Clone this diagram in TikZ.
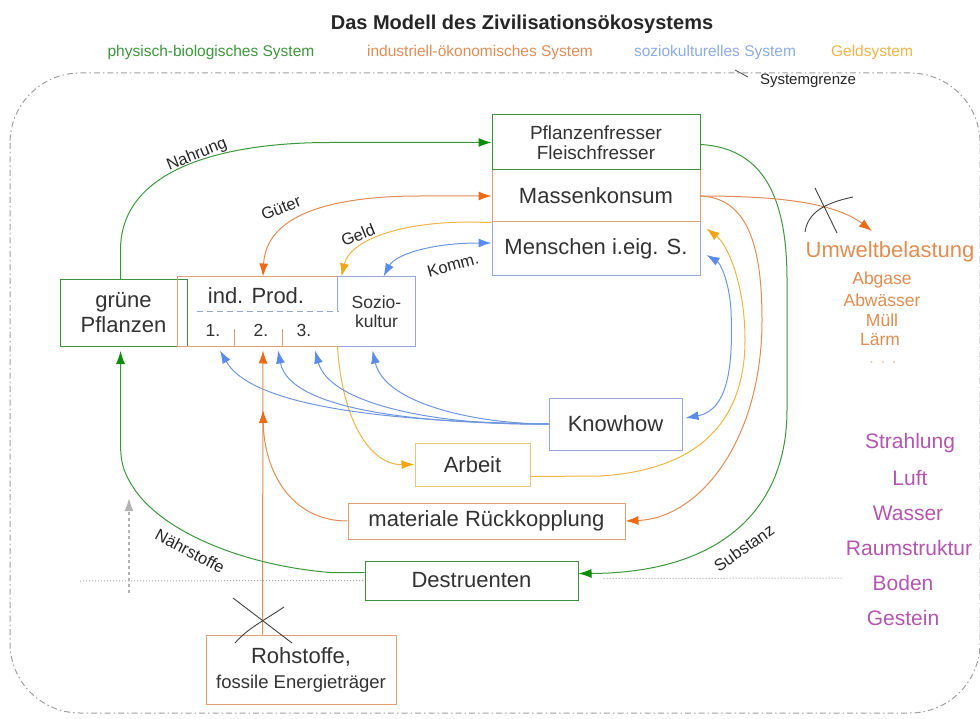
\documentclass[tikz,border=0pt]{standalone}
\usepackage{fontspec}
\setmainfont{Liberation Sans}
\usetikzlibrary{arrows.meta,calc}
\newcommand\fsz[2]{\fontsize{#1}{#2}\selectfont}
\definecolor{bgreen}{RGB}{60,145,60}
\definecolor{lgreen}{RGB}{60,150,60}
\definecolor{tgreen}{RGB}{10,140,10}
\definecolor{borange}{RGB}{222,160,115}
\definecolor{lorange}{RGB}{225,140,85}
\definecolor{torange}{RGB}{240,105,20}
\definecolor{bblue}{RGB}{150,168,212}
\definecolor{lblue}{RGB}{110,150,220}
\definecolor{tblue}{RGB}{90,140,235}
\definecolor{bgold}{RGB}{232,200,120}
\definecolor{lgold}{RGB}{238,180,70}
\definecolor{tgold}{RGB}{245,165,20}
\definecolor{cpurple}{RGB}{180,85,175}
\definecolor{txt}{RGB}{50,50,50}
\definecolor{utxt}{RGB}{225,140,80}
\tikzset{
  tipG/.tip={Latex[length=13pt,width=9pt,color=tgreen]},
  tipO/.tip={Latex[length=13pt,width=9pt,color=torange]},
  tipB/.tip={Latex[length=13pt,width=9pt,color=tblue]},
  tipY/.tip={Latex[length=13pt,width=9pt,color=tgold]},
  tipGr/.tip={Latex[length=13pt,width=9pt,color=gray!60]},
  box/.style={draw, line width=1pt, inner sep=0pt, font=\fsz{22}{25}, text=txt, align=center},
  gline/.style={draw=lgreen, line width=1pt},
  oline/.style={draw=lorange, line width=1pt},
  bline/.style={draw=lblue, line width=1pt},
  yline/.style={draw=lgold, line width=1pt},
  crossc/.style={draw=black!75, line width=0.9pt},
  lab/.style={font=\fsz{16.5}{18}, text=black!85, inner sep=0pt},
  intext/.style={font=\fsz{22}{25}, text=txt, inner sep=0pt},
  leg/.style={font=\fsz{15.5}{18}, inner sep=0pt},
  utext/.style={font=\fsz{17.5}{20}, text=utxt, inner sep=0pt},
  ptext/.style={font=\fsz{21}{24}, text=cpurple, inner sep=0pt}
}
\begin{document}
\begin{tikzpicture}[x=1pt,y=-1pt]
\useasboundingbox (0,0) rectangle (980,719);
% title and legend
\node[font=\bfseries\fsz{20}{24}, text=black!85] (title) at (522,24) {Das Modell des Zivilisationsökosystems};
\node[leg, text=lgreen] (leg1) at (211,52) {physisch-biologisches System};
\node[leg, text=lorange] (leg2) at (480,52) {industriell-ökonomisches System};
\node[leg, text=lblue!80] (leg3) at (715,52) {soziokulturelles System};
\node[leg, text=lgold] (leg4) at (872,52) {Geldsystem};
% system boundary
\draw[gray!75, line width=1pt, dash pattern=on 6pt off 3pt on 1.5pt off 3pt, rounded corners=70pt] (10,73) rectangle (980,713);
\node[font=\fsz{15}{18}, text=black!85, inner sep=0pt] (sg) at (808,81) {Systemgrenze};
\coordinate (sg1) at (735,70);
\coordinate (sg2) at (748,77);
\draw[black!70, line width=0.8pt] (sg1) -- (sg2);
% boxes
\node[box, draw=bblue, minimum width=208pt, minimum height=54pt] (me) at (596,249) {Menschen i.eig. S.};
\node[box, draw=borange, minimum width=208pt, minimum height=52pt] (mk) at (596,196) {Massenkonsum};
\node[box, draw=bgreen, minimum width=208pt, minimum height=55pt, font=\fsz{19}{20}] (pf) at (596,142.5) {Pflanzenfresser\\Fleischfresser};
\node[box, draw=bgreen, minimum width=127pt, minimum height=67pt] (gp) at (123.5,313) {grüne\\Pflanzen};
\node[box, draw=none, minimum width=160pt, minimum height=69pt] (ip) at (258,311.5) {};
\draw[borange, line width=1pt] (ip.north east) -- (ip.north west) -- (ip.south west) -- (ip.south east);
\node[box, draw=none, minimum width=77pt, minimum height=69pt, font=\fsz{17.5}{19}] (sk) at (376.5,311.5) {Sozio-\\kultur};
\draw[bblue, line width=1pt] (sk.west) -- (sk.north west) -- (sk.north east) -- (sk.south east) -- (sk.south west);
\node[intext] (ipt) at (256,296) {ind. Prod.};
\node[intext, font=\fsz{17.5}{19}] (n1) at (213,330) {1.};
\node[intext, font=\fsz{17.5}{19}] (n2) at (261,330) {2.};
\node[intext, font=\fsz{17.5}{19}] (n3) at (304,330) {3.};
\draw[bblue, line width=1pt, dash pattern=on 6pt off 4pt] ($(ip.west)+(19,0)$) -- (ip.east);
\draw[borange, line width=1pt] ($(ip.south west)+(57,0)$) -- ++(0,-17);
\draw[borange, line width=1pt] ($(ip.south west)+(105,0)$) -- ++(0,-17);
\node[box, draw=bblue, minimum width=133pt, minimum height=52pt] (kh) at (615.5,424) {Knowhow};
\node[box, draw=bgold, minimum width=115pt, minimum height=43pt] (ar) at (472.5,464.5) {Arbeit};
\node[box, draw=borange, minimum width=277pt, minimum height=36pt] (mr) at (486.5,521) {materiale Rückkopplung};
\node[box, draw=bgreen, minimum width=213pt, minimum height=39pt] (de) at (471.5,580.5) {Destruenten};
\node[box, draw=borange, minimum width=190pt, minimum height=69pt] (ro) at (301,669.5) {{\fsz{22}{22}Rohstoffe,}\\{\fsz{18.5}{22}fossile Energieträger}};
% right side texts
\node[font=\fsz{22}{24}, text=utxt, inner sep=0pt] (uw) at (890,252) {Umweltbelastung};
\node[utext] (u1) at (882,280) {Abgase};
\node[utext] (u2) at (882,300) {Abwässer};
\node[utext] (u3) at (882,320) {Müll};
\node[utext] (u4) at (880,340) {Lärm};
\node[utext, text=utxt!50] (u5) at (883,363) {. . .};
\node[ptext] (p1) at (910,443) {Strahlung};
\node[ptext] (p2) at (910,478) {Luft};
\node[ptext] (p3) at (908,513) {Wasser};
\node[ptext] (p4) at (909,548) {Raumstruktur};
\node[ptext] (p5) at (903,583) {Boden};
\node[ptext] (p6) at (903,618) {Gestein};
% dotted ground lines
\coordinate (dl1) at (80,581);
\coordinate (dr2) at (843,578);
\draw[gray!70, line width=1pt, dotted] (dl1) -- (de.west);
\draw[gray!70, line width=1pt, dotted] ($(de.east)+(25,-2)$) -- (dr2);
% Nahrung
\draw[gline, -tipG] ($(gp.north)+(-3,0)$) -- (120.5,250) .. controls (120.5,170) and (220,142.5) .. (330,142.5) -- (pf.west);
\node[lab, rotate=22] (lnahrung) at (197,155) {Nahrung};
% Gueter
\draw[oline, tipO-tipO] ($(ip.north)+(5,0)$) .. controls (266,215) and (330,196) .. (420,196) -- (mk.west);
\node[lab, rotate=22] (lgueter) at (281,208) {Güter};
% Geld
\draw[yline, tipY-] ($(sk.north west)+(4,0)$) .. controls (350,240) and (400,222) .. (470,222) -- (mk.south west);
\node[lab, rotate=22] (lgeld) at (358,235) {Geld};
% Komm
\draw[bline, tipB-tipB] ($(sk.north)+(7,0)$) .. controls (395,255) and (430,243) .. ($(me.west)+(0,-6)$);
\node[lab, rotate=15] (lkomm) at (453,265) {Komm.};
% Substanz
\draw[gline, -tipG] ($(pf.east)+(0,2)$) .. controls (765,148) and (787,200) .. (787,280) -- (787,410) .. controls (787,510) and (720,573) .. ($(de.east)+(0,-7)$);
\node[lab, rotate=35] (lsub) at (744,548) {Substanz};
% Umweltbelastung
\coordinate (uwtip) at (872,231);
\draw[oline, -tipO] (mk.east) .. controls (780,196) and (835,203) .. (uwtip);
\coordinate (c1a) at (815,188); \coordinate (c1b) at (837,233);
\coordinate (c2a) at (805,232); \coordinate (c2b) at (853,197);
\draw[crossc] (c1a) -- (c1b);
\draw[crossc] (c2a) .. controls (808,212) and (825,203) .. (c2b);
% Massenkonsum -> materiale Rueckkopplung
\draw[oline, -tipO] (mk.east) .. controls (745,198) and (762,240) .. (762,320) .. controls (762,440) and (700,518) .. (mr.east);
% Arbeit -> Menschen
\draw[yline, -tipY] ($(ar.east)+(0,12)$) -- (600,476) .. controls (700,470) and (745,420) .. (745,340) .. controls (745,285) and (728,245) .. ($(me.north east)+(6,7)$);
% Knowhow <-> Menschen
\draw[bline, tipB-tipB] ($(kh.east)+(3,-6)$) .. controls (730,410) and (733,360) .. (731,310) .. controls (729,280) and (720,263) .. ($(me.east)+(6,6)$);
% Sozio -> Arbeit
\draw[yline, -tipY] (sk.south west) .. controls (342,420) and (370,465) .. (ar.west);
% Knowhow -> Produktion / Soziokultur
\draw[bline, -tipB] (kh.west) .. controls (420,422) and (255,412) .. ($(ip.south)+(-38,4)$);
\draw[bline, -tipB] (kh.west) .. controls (430,424) and (290,412) .. ($(ip.south)+(20,4)$);
\draw[bline, -tipB] (kh.west) .. controls (440,426) and (330,405) .. ($(ip.south)+(57,4)$);
\draw[bline, -tipB] (kh.west) .. controls (480,424) and (385,405) .. ($(sk.south)+(-4,4)$);
% Rohstoffe -> Produktion
\draw[oline, -tipO] ($(ro.north west)+(57,0)$) -- ($(ip.south)+(5,4)$);
\coordinate (mrtip) at (263,410);
\draw[oline, -tipO] (mr.west) .. controls (290,521) and (264,470) .. (mrtip);
\coordinate (c3a) at (233,598); \coordinate (c3b) at (292,643);
\coordinate (c4a) at (235,643); \coordinate (c4b) at (284,607);
\draw[crossc] (c3a) -- (c3b);
\draw[crossc] (c4a) .. controls (248,628) and (265,620) .. (c4b);
% Destruenten -> gruene Pflanzen
\draw[gline, -tipG] ($(de.west)+(0,-8)$) -- (330,572.5) .. controls (240,565) and (160,530) .. (133,487) .. controls (122,470) and (120.5,460) .. (120.5,440) -- ($(gp.south)+(-3,4)$);
\node[lab, rotate=-28] (lnaehr) at (190,551) {Nährstoffe};
% gray dashed arrow
\coordinate (ga1) at (129,593); \coordinate (ga2) at (129,498);
\draw[gray!60, line width=1.5pt, dashed, -tipGr] (ga1) -- (ga2);
\end{tikzpicture}
\end{document}
